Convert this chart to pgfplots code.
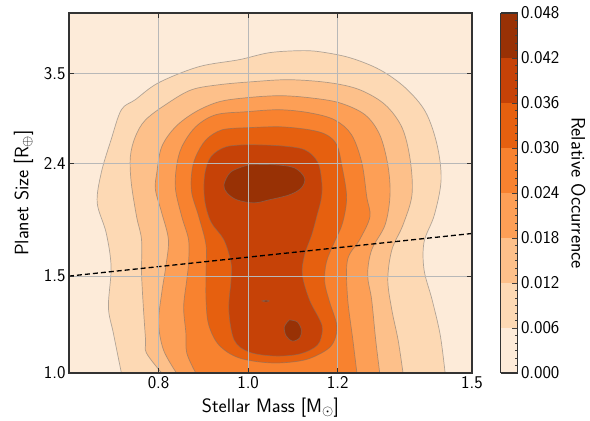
\documentclass[border=0pt]{standalone}
\usepackage{fontspec}
\usepackage{pgfplots}
\pgfplotsset{compat=1.18}

\definecolor{c0}{HTML}{FDEBD9}
\definecolor{c1}{HTML}{FDD9B4}
\definecolor{c2}{HTML}{FDC08A}
\definecolor{c3}{HTML}{FD9F56}
\definecolor{c4}{HTML}{F8822F}
\definecolor{c5}{HTML}{E6600F}
\definecolor{c6}{HTML}{C64207}
\definecolor{c7}{HTML}{983105}

\begin{document}
\begin{tikzpicture}
\begin{axis}[
  scale only axis, width=403bp, height=360bp,
  xmin=0.6, xmax=1.5, ymin=1, ymax=4.51, ymode=log,
  xtick={0.8,1.0,1.2,1.5}, xticklabels={0.8,1.0,1.2,1.5},
  ytick={1,1.5,2.4,3.5}, yticklabels={1.0,1.5,2.4,3.5},
  minor ytick={},
  grid=major, major grid style={draw=black!28, line width=0.9bp},
  axis on top,
  axis background/.style={fill=c0},
  axis line style={draw=black!80, line width=1.2bp},
  tick align=inside, major tick length=5bp,
  tick style={draw=black!80, line width=1bp},
  tick label style={font=\sffamily\fontsize{18}{21}\selectfont},
  label style={font=\sffamily\fontsize{19.5}{23}\selectfont},
  xlabel={Stellar Mass [M$_\odot$]},
  xlabel style={yshift=-2bp},
  ylabel={Planet Size [R$_\oplus$]},
  ylabel shift=4bp,
  colormap={orng}{rgb255=(253,235,217) rgb255=(253,217,180) rgb255=(253,192,138)
    rgb255=(253,159,86) rgb255=(248,130,47) rgb255=(230,96,15)
    rgb255=(198,66,7) rgb255=(152,49,5)},
  colormap access=piecewise constant,
  point meta min=0, point meta max=0.048,
  colorbar,
  colorbar style={
    scale only axis,
    at={(parent axis.north east)}, anchor=north west, xshift=20bp,
    width=17bp, height=360bp,
    ytick={0,0.006,0.012,0.018,0.024,0.030,0.036,0.042,0.048},
    yticklabels={0.000,0.006,0.012,0.018,0.024,0.030,0.036,0.042,0.048},
    minor y tick num=5,
    scaled y ticks=false,
    ytick pos=right,
    tick align=inside, major tick length=6bp, minor tick length=3bp,
    tick style={draw=black!75, line width=0.9bp},
    axis line style={draw=black!80, line width=1.2bp},
    yticklabel style={font=\sffamily\fontsize{18}{21}\selectfont},
    ylabel={Relative Occurrence},
    ylabel shift=5bp,
    ylabel style={font=\sffamily\fontsize{19.5}{23}\selectfont, rotate=180},
  },
  lvl/.style={draw=black!55, draw opacity=0.55, line width=0.7bp, smooth, tension=0.55},
]
% level 0.006
\addplot[lvl, fill=c1] coordinates {
  (0.717,1.000) (0.699,1.182) (0.688,1.318) (0.694,1.559) (0.683,1.798)
  (0.663,2.038) (0.672,2.311) (0.694,2.654) (0.717,3.009) (0.748,3.138)
  (0.800,3.369) (0.890,3.603) (0.980,3.710) (1.047,3.820) (1.115,3.853)
  (1.160,3.836) (1.227,3.741) (1.294,3.558) (1.351,3.299) (1.396,2.984)
  (1.422,2.599) (1.431,2.244) (1.416,1.938) (1.393,1.731) (1.393,1.539)
  (1.411,1.358) (1.429,1.173) (1.440,1.000)
} --cycle;
% level 0.012
\addplot[lvl, fill=c2] coordinates {
  (0.807,1.000) (0.773,1.087) (0.771,1.148) (0.766,1.318) (0.762,1.520)
  (0.762,1.746) (0.751,1.922) (0.739,2.216) (0.737,2.472) (0.748,2.687)
  (0.771,2.885) (0.822,3.098) (0.874,3.272) (0.935,3.341) (1.009,3.383)
  (1.092,3.412) (1.182,3.369) (1.249,3.272) (1.306,3.073) (1.344,2.790)
  (1.362,2.440) (1.366,2.108) (1.346,1.859) (1.321,1.674) (1.312,1.476)
  (1.321,1.302) (1.335,1.148) (1.346,1.000)
} --cycle;
% level 0.018
\addplot[lvl, fill=c3] coordinates {
  (0.840,1.000) (0.811,1.101) (0.800,1.233) (0.807,1.398) (0.816,1.559)
  (0.822,1.746) (0.807,1.955) (0.793,2.152) (0.796,2.311) (0.807,2.577)
  (0.838,2.802) (0.883,2.984) (0.935,3.111) (0.996,3.164) (1.070,3.191)
  (1.137,3.164) (1.204,3.098) (1.261,2.947) (1.294,2.710) (1.312,2.390)
  (1.317,2.108) (1.306,1.859) (1.276,1.674) (1.267,1.508) (1.276,1.358)
  (1.285,1.148) (1.294,1.000)
} --cycle;
% level 0.024
\addplot[lvl, fill=c4] coordinates {
  (0.883,1.000) (0.863,1.087) (0.861,1.182) (0.856,1.318) (0.863,1.476)
  (0.867,1.585) (0.867,1.746) (0.852,1.922) (0.838,2.152) (0.840,2.370)
  (0.852,2.577) (0.883,2.802) (0.928,2.947) (0.996,2.984) (1.070,3.009)
  (1.137,2.971) (1.193,2.885) (1.231,2.710) (1.254,2.410) (1.265,2.090)
  (1.272,1.922) (1.249,1.746) (1.222,1.605) (1.222,1.375) (1.234,1.148)
  (1.243,1.000)
} --cycle;
% level 0.030
\addplot[lvl, fill=c5] coordinates {
  (0.996,2.790) (1.070,2.802) (1.137,2.767) (1.175,2.710) (1.198,2.599)
  (1.209,2.390) (1.220,2.090) (1.211,1.874) (1.193,1.731) (1.175,1.592)
  (1.171,1.464) (1.182,1.346) (1.198,1.223) (1.193,1.148) (1.175,1.101)
  (1.126,1.056) (1.054,1.043) (0.980,1.065) (0.935,1.124) (0.912,1.223)
  (0.906,1.358) (0.906,1.539) (0.906,1.709) (0.890,1.922) (0.874,2.125)
  (0.874,2.311) (0.883,2.472) (0.906,2.654) (0.942,2.767) (0.996,2.790)
} --cycle;
% level 0.036
\addplot[lvl, fill=c6] coordinates {
  (1.002,2.599) (1.070,2.588) (1.126,2.545) (1.155,2.420) (1.164,2.244)
  (1.164,2.090) (1.153,1.922) (1.142,1.783) (1.126,1.639) (1.121,1.508)
  (1.137,1.358) (1.160,1.249) (1.166,1.197) (1.155,1.124) (1.115,1.083)
  (1.058,1.074) (1.002,1.092) (0.969,1.148) (0.957,1.302) (0.962,1.476)
  (0.962,1.585) (0.946,1.746) (0.917,1.882) (0.903,2.064) (0.903,2.292)
  (0.917,2.472) (0.951,2.577) (1.002,2.599)
} --cycle;
% level 0.042
\addplot[lvl, fill=c7] coordinates {
  (1.002,2.390) (1.058,2.390) (1.103,2.360)
  (1.126,2.263) (1.119,2.170) (1.092,2.108) (1.047,2.064) (1.013,2.038)
  (0.975,2.064) (0.953,2.125) (0.946,2.198) (0.962,2.321) (1.002,2.390)
} --cycle;
\addplot[lvl, fill=c7] coordinates {
  (1.092,1.249) (1.110,1.238) (1.119,1.197) (1.115,1.158) (1.099,1.143)
  (1.085,1.168) (1.081,1.213) (1.092,1.249)
} --cycle;
\addplot[lvl, fill=c7] coordinates {
  (1.031,1.352) (1.040,1.356) (1.047,1.352) (1.040,1.346) (1.031,1.352)
} --cycle;
% dividing line
\addplot[black, line width=1.3bp, dash pattern=on 5bp off 3bp] coordinates {
  (0.6,1.5) (1.5,1.793)
};
\end{axis}
\pgfresetboundingbox
\path ([shift={(-69bp,-47bp)}]current axis.south west)
  rectangle ([shift={(118bp,13bp)}]current axis.north east);
\end{tikzpicture}
\end{document}
